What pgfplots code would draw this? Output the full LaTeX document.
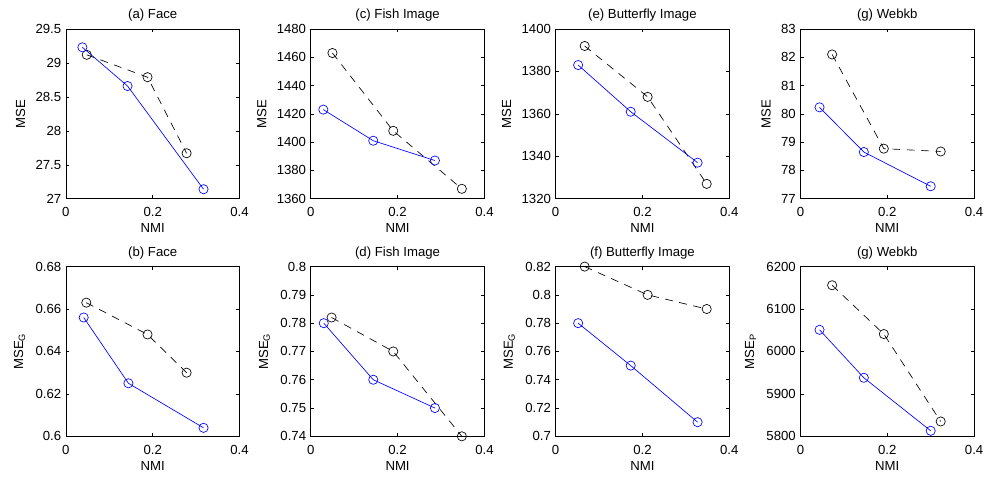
\documentclass[border=0pt]{standalone}
\usepackage{fontspec}
\setmainfont{Liberation Sans}
\usepackage{pgfplots}
\pgfplotsset{compat=1.18}
\usepgfplotslibrary{groupplots}

\pgfplotsset{
  ours/.style={blue, line width=0.5pt, mark=o, mark size=3.5pt, mark options={solid}},
  base/.style={black, line width=0.5pt, dash pattern=on 6pt off 5pt, mark=o, mark size=3.5pt, mark options={solid}},
}

\begin{document}
\begin{tikzpicture}[font=\fontsize{10}{12}\selectfont]
\begin{groupplot}[
  group style={group size=4 by 2, horizontal sep=54pt, vertical sep=51.5pt},
  scale only axis, width=131.8pt, height=128.8pt,
  xmin=0, xmax=0.4, xtick={0,0.2,0.4},
  xlabel={NMI},
  tick align=inside, tick pos=both,
  major tick length=2.5pt,
  axis line style={line width=0.5pt},
  every tick/.style={black, line width=0.4pt},
  /pgf/number format/assume math mode=true,
  /pgf/number format/1000 sep={},
  yticklabel style={/pgf/number format/fixed},
  xticklabel style={/pgf/number format/fixed, yshift=-3pt},
  title style={yshift=-4pt},
  xlabel style={yshift=1.5pt},
  ylabel style={yshift=1pt},
]
% (a) Face
\nextgroupplot[title={(a) Face}, ylabel={MSE}, ymin=27, ymax=29.5, ytick={27,27.5,...,29.5}]
\addplot[base] coordinates {(0.048,29.12) (0.188,28.79) (0.278,27.67)};
\addplot[ours] coordinates {(0.038,29.23) (0.142,28.66) (0.317,27.14)};
% (c) Fish
\nextgroupplot[title={(c) Fish Image}, ylabel={MSE}, ymin=1360, ymax=1480, ytick={1360,1380,...,1480}]
\addplot[base] coordinates {(0.05,1463) (0.19,1408) (0.348,1367)};
\addplot[ours] coordinates {(0.029,1423) (0.144,1401) (0.286,1387)};
% (e) Butterfly
\nextgroupplot[title={(e) Butterfly Image}, ylabel={MSE}, ymin=1320, ymax=1400, ytick={1320,1340,...,1400}]
\addplot[base] coordinates {(0.067,1392) (0.212,1368) (0.348,1327)};
\addplot[ours] coordinates {(0.052,1383) (0.173,1361) (0.327,1337)};
% (g) Webkb
\nextgroupplot[title={(g) Webkb}, ylabel={MSE}, ymin=77, ymax=83, ytick={77,78,...,83}]
\addplot[base] coordinates {(0.073,82.1) (0.192,78.77) (0.323,78.67)};
\addplot[ours] coordinates {(0.044,80.23) (0.146,78.65) (0.3,77.44)};
% (b) Face
\nextgroupplot[title={(b) Face}, ylabel={MSE\textsubscript{G}}, ymin=0.6, ymax=0.68, ytick={0.6,0.62,...,0.681}]
\addplot[base] coordinates {(0.047,0.663) (0.188,0.648) (0.278,0.630)};
\addplot[ours] coordinates {(0.041,0.656) (0.144,0.625) (0.317,0.604)};
% (d) Fish
\nextgroupplot[title={(d) Fish Image}, ylabel={MSE\textsubscript{G}}, ymin=0.74, ymax=0.8, ytick={0.74,0.75,...,0.801}]
\addplot[base] coordinates {(0.048,0.782) (0.19,0.770) (0.348,0.740)};
\addplot[ours] coordinates {(0.03,0.780) (0.144,0.760) (0.286,0.750)};
% (f) Butterfly
\nextgroupplot[title={(f) Butterfly Image}, ylabel={MSE\textsubscript{G}}, ymin=0.7, ymax=0.82, ytick={0.7,0.72,...,0.821}]
\addplot[base] coordinates {(0.067,0.820) (0.212,0.800) (0.348,0.790)};
\addplot[ours] coordinates {(0.052,0.780) (0.173,0.750) (0.327,0.710)};
% (g) Webkb
\nextgroupplot[title={(g) Webkb}, ylabel={MSE\textsubscript{P}}, ymin=5800, ymax=6200, ytick={5800,5900,...,6200}]
\addplot[base] coordinates {(0.073,6156) (0.192,6041) (0.323,5835)};
\addplot[ours] coordinates {(0.044,6051) (0.146,5938) (0.3,5813)};
\end{groupplot}
% page frame matching the reference margins
\pgfresetboundingbox
\useasboundingbox ([shift={(-50pt,22pt)}]group c1r1.north west) rectangle ([shift={(7.5pt,-31pt)}]group c4r2.south east);
\end{tikzpicture}
\end{document}
